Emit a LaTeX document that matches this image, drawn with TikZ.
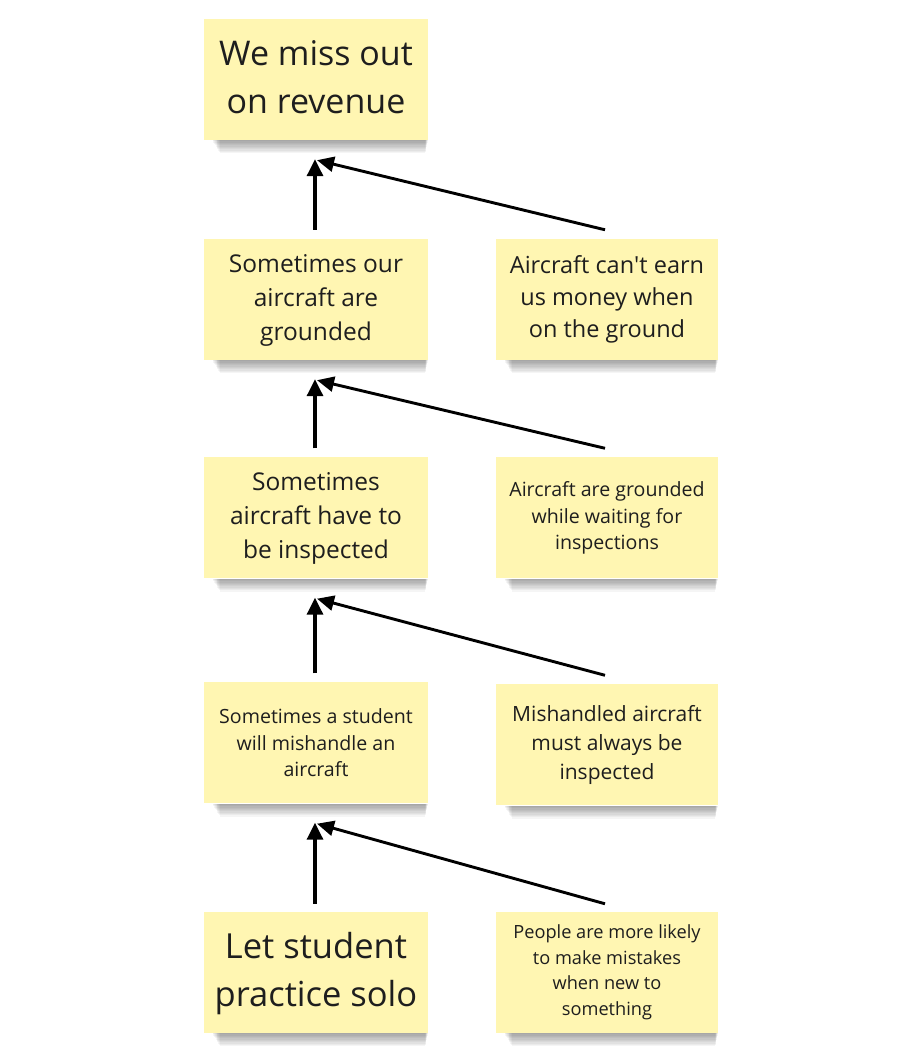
\documentclass[tikz,border=0pt]{standalone}
\usepackage{fontspec}
\setmainfont{Open Sans}
\usetikzlibrary{arrows.meta,calc}
\definecolor{notefill}{RGB}{255,246,178}
\definecolor{notetext}{RGB}{30,30,30}
\tikzset{
  note/.style={fill=notefill, minimum width=224pt, minimum height=121pt, inner sep=0pt, align=center, text=notetext},
  rnote/.style={note, minimum width=222pt},
  fs/.style 2 args={font=\fontsize{#1}{#2}\selectfont},
  arr/.style={line width=3.3pt, -{Triangle[length=17pt,width=16pt]}},
  darr/.style={line width=2.9pt, -{Triangle[length=17pt,width=15pt]}},
}
\newcommand{\noteshadow}[1]{%
  \foreach \i in {1,...,10} {%
    \fill[black,opacity=0.04] ($(#1.south west)+(8+\i*0.8,0)$) rectangle ($(#1.south east)+(-\i*0.3,-\i*1.3)$);%
  }%
}
\begin{document}
\begin{tikzpicture}[x=1pt,y=1pt]
\useasboundingbox (0,0) rectangle (912,1060);
\fill[white] (0,0) rectangle (912,1060);
% notes
\node[note,fs={34}{48}] (a1) at (316,980.5) {\raisebox{-2pt}{\begin{tabular}{@{}c@{}}We miss out\\on revenue\end{tabular}}};
\node[note,fs={24.5}{34}] (a2) at (316,760.5) {\raisebox{-2pt}{\begin{tabular}{@{}c@{}}Sometimes our\\aircraft are\\grounded\end{tabular}}};
\node[rnote,fs={23.5}{32}] (b2) at (607,760.5) {Aircraft can\textquotesingle t earn\\us money when\\on the ground};
\node[note,fs={24.5}{34}] (a3) at (316,542) {\raisebox{-2pt}{\begin{tabular}{@{}c@{}}Sometimes\\aircraft have to\\be inspected\end{tabular}}};
\node[rnote,fs={19.6}{26.5}] (b3) at (607,542) {Aircraft are grounded\\while waiting for\\inspections};
\node[note,fs={19.6}{26.5}] (a4) at (316,317) {Sometimes a student\\will mishandle an\\aircraft};
\node[rnote,fs={21}{29}] (b4) at (607,315) {Mishandled aircraft\\must always be\\inspected};
\node[note,fs={34.5}{48}] (a5) at (316,87.5) {\raisebox{-3pt}{\begin{tabular}{@{}c@{}}Let student\\practice solo\end{tabular}}};
\node[rnote,fs={18.2}{25.5}] (b5) at (607,87.5) {People are more likely\\to make mistakes\\when new to\\something};
% shadows
\noteshadow{a1}
\noteshadow{a2}\noteshadow{b2}
\noteshadow{a3}\noteshadow{b3}
\noteshadow{a4}\noteshadow{b4}
\noteshadow{a5}\noteshadow{b5}
% arrows
\draw[arr] ([xshift=-1pt,yshift=9pt]a2.north) -- ([xshift=-1pt,yshift=-19pt]a1.south);
\draw[darr] ([xshift=-2pt,yshift=9pt]b2.north) -- ([xshift=1pt,yshift=-20pt]a1.south);
\draw[arr] ([xshift=-1pt,yshift=9pt]a3.north) -- ([xshift=-1pt,yshift=-19pt]a2.south);
\draw[darr] ([xshift=-2pt,yshift=9pt]b3.north) -- ([xshift=1pt,yshift=-20pt]a2.south);
\draw[arr] ([xshift=-1pt,yshift=9pt]a4.north) -- ([xshift=-1pt,yshift=-19pt]a3.south);
\draw[darr] ([xshift=-2pt,yshift=9pt]b4.north) -- ([xshift=1pt,yshift=-20pt]a3.south);
\draw[arr] ([xshift=-1pt,yshift=8pt]a5.north) -- ([xshift=-1pt,yshift=-19pt]a4.south);
\draw[darr] ([xshift=-2pt,yshift=8pt]b5.north) -- ([xshift=1pt,yshift=-20pt]a4.south);
\end{tikzpicture}
\end{document}
